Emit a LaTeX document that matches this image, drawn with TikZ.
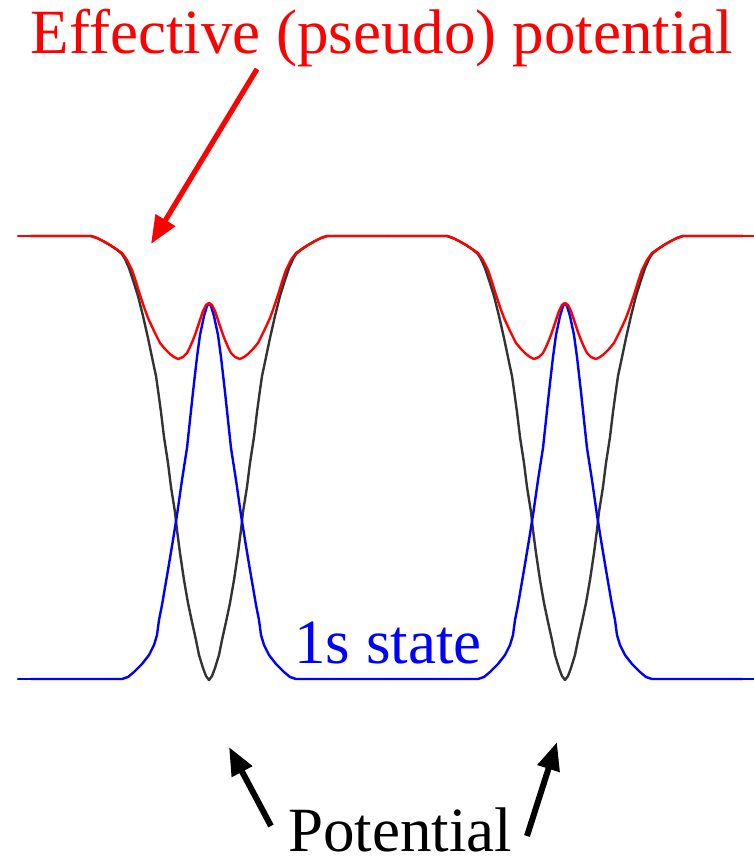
\documentclass[tikz,border=0pt]{standalone}
\usepackage{fontspec}
\setmainfont{Liberation Serif}
\usetikzlibrary{arrows.meta}
\tikzset{
  curve/.style={line width=1.2pt, line join=round, line cap=round},
  redc/.style={curve, draw=red},
  bluec/.style={curve, draw=blue},
  blackc/.style={curve, draw=black!80},
  lbl/.style={font=\fontsize{31.5}{36}\selectfont, inner sep=0pt, anchor=base},
  arr/.style={line width=3pt, -{Triangle[length=14pt,width=11pt]}},
  blackhalf/.pic={\draw[blackc] (0,680) -- (3,676) -- (6,668) -- (10,655) -- (13,640) -- (17,622) -- (21,603) -- (25,580) -- (29,553) -- (32,530) -- (34,512) -- (38,487) -- (41,463) -- (45,437) -- (48,412) -- (51,390) -- (53,376) -- (56,362) -- (61,338) -- (66,316) -- (71,296) -- (76,280) -- (80,268) -- (84,259) -- (87,254) -- (93,249) -- (99,245) -- (106,241) -- (112,238) -- (118,236) -- (178,236);},
  bluehalf/.pic={\draw[bluec] (0,303) -- (2,306) -- (5,316) -- (9,335) -- (12,357) -- (16,392) -- (22,448) -- (27,480) -- (32,515) -- (36,540) -- (41,570) -- (47,605) -- (50,620) -- (52,635) -- (55,645) -- (60,655) -- (67,664) -- (75,672) -- (81,677) -- (87,679) -- (178,679);},
  redhalf/.pic={\draw[redc] (0,303) -- (3,305) -- (6,311) -- (9,320) -- (13,332) -- (16,340) -- (19,347) -- (22,353) -- (26,357) -- (31,359) -- (35,357) -- (39,354) -- (44,349) -- (49,343) -- (55,331) -- (61,318) -- (65,307) -- (69,295) -- (73,282) -- (77,270) -- (82,260) -- (87,253) -- (93,249) -- (99,245) -- (106,241) -- (112,238) -- (118,236) -- (121,236) -- (178,236);}
}
\begin{document}
\begin{tikzpicture}[x=0.5pt,y=-0.5pt]
\useasboundingbox (0,0) rectangle (754,864);
% curves
\foreach \c in {209,565} {\foreach \s in {1,-1} {\pic[xscale=\s] at (\c,0) {blackhalf};}}
\foreach \c in {209,565} {\foreach \s in {1,-1} {\pic[xscale=\s] at (\c,0) {bluehalf};}}
\draw[bluec] (18,679) -- (31,679) (743,679) -- (754,679);
\foreach \c in {209,565} {\foreach \s in {1,-1} {\pic[xscale=\s] at (\c,0) {redhalf};}}
\draw[redc] (18,236) -- (31,236) (743,236) -- (754,236);
% labels
\node[lbl, text=red] (eff) at (382,53) {Effective (pseudo) potential};
\node[lbl, text=blue] (state) at (388,663) {1s state};
\node[lbl, text=black] (pot) at (400,851) {Potential};
% arrows
\coordinate (rtail) at (257,69);
\coordinate (rtip) at (151,244);
\coordinate (ltail) at (271,826);
\coordinate (ltip) at (229,747);
\coordinate (qtail) at (527,836);
\coordinate (qtip) at (557,742);
\draw[arr, red, line width=2.6pt] (rtail) -- (rtip);
\draw[arr, black] (ltail) -- (ltip);
\draw[arr, black] (qtail) -- (qtip);
\end{tikzpicture}
\end{document}
